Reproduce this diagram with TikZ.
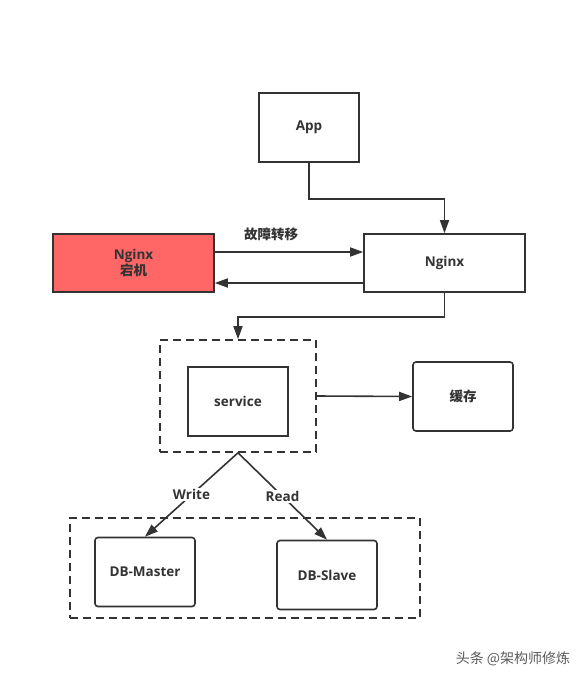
\documentclass[tikz,border=0pt]{standalone}
\usepackage{fontspec}
\setmainfont{Open Sans}
\newfontfamily\cjk{Noto Sans CJK SC}
\usetikzlibrary{arrows.meta, positioning}
\definecolor{LineGray}{HTML}{333333}
\definecolor{DownRed}{HTML}{FF6666}
\definecolor{MarkGray}{HTML}{5A5A5A}

\begin{document}
\begin{tikzpicture}[x=1pt, y=-1pt,
    box/.style={rectangle, draw=LineGray, line width=1.6pt, fill=white, minimum width=100pt, minimum height=69pt, align=center, font=\fontsize{13.5}{16}\selectfont\bfseries, text=LineGray},
    roundbox/.style={box, rounded corners=3pt},
    group/.style={rectangle, draw=LineGray, line width=1.6pt, dash pattern=on 8pt off 5pt},
    arrow/.style={-{Triangle[length=13pt, width=9pt]}, line width=1.6pt, color=LineGray},
    tag/.style={fill=white, inner sep=1.5pt, text=LineGray, font=\fontsize{13.5}{15}\selectfont\bfseries}
]
\useasboundingbox (0,0) rectangle (587,680);

\node[box] (app) at (309,127.5) {App};
\node[box, minimum width=161pt, minimum height=58pt] (nginx) at (444.5,263) {Nginx};
\node[box, fill=DownRed, minimum width=161pt, minimum height=58pt] (down) at (133.5,263) {Nginx\\{\cjk 宕机}};

\node[group, minimum width=156pt, minimum height=112pt] (svcgroup) at (238,396) {};
\node[box] (service) at (238,401.5) {service};
\node[roundbox] (cache) at (463,396.5) {{\cjk 缓存}};

\node[group, minimum width=350pt, minimum height=100pt] (dbgroup) at (245,568) {};
\node[roundbox] (master) at (145,572) {DB-Master};
\node[roundbox] (slave) at (327,575) {DB-Slave};

\draw[arrow] (app.south) -- ++(0,36) -| (nginx.north);
\draw[arrow] ([yshift=11pt]down.east) -- node[tag, pos=0.38, above=9pt] (failover) {{\cjk 故障转移}} ([yshift=11pt]nginx.west);
\draw[arrow] ([yshift=-20pt]nginx.west) -- ([yshift=-20pt]down.east);
\draw[arrow] (nginx.south) -- ++(0,24) -| (svcgroup.north);
\draw[arrow] (svcgroup.east) -- (cache.west);
\draw[arrow] (svcgroup.south) -- node[tag] (write) {Write} (master.north);
\draw[arrow] (svcgroup.south) -- node[tag] (read) {Read} (slave.north);

\node[text=MarkGray, font=\fontsize{14}{16}\selectfont] (watermark) at (513,659) {{\cjk 头条 @架构师修炼}};

\end{tikzpicture}
\end{document}
